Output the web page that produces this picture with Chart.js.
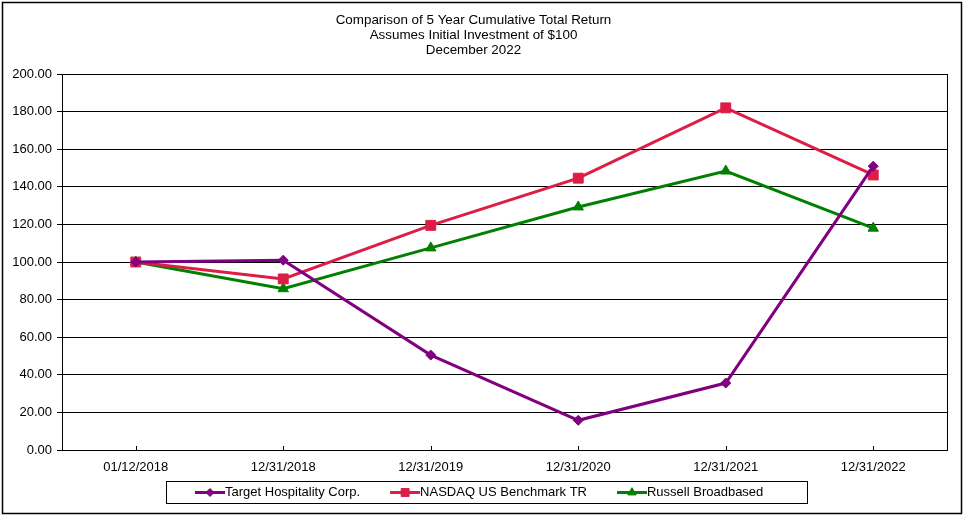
<!DOCTYPE html>
<html>
<head>
<meta charset="utf-8">
<script src="https://cdn.jsdelivr.net/npm/chart.js@4.4.1/dist/chart.umd.min.js"></script>
<style>
  html, body { margin: 0; padding: 0; background: #fff; }
  #wrap { width: 965px; height: 515px; }
</style>
</head>
<body>
<div id="wrap"><canvas id="returns_chart"></canvas></div>
<script>
// values
var dates = ["01/12/2018", "12/31/2018", "12/31/2019", "12/31/2020", "12/31/2021", "12/31/2022"];
var target_hospitality = [100.00, 101.00, 50.50, 15.80, 35.60, 151.00];
var nasdaq_benchmark = [100.00, 91.00, 119.50, 144.60, 182.00, 146.30];
var russell_broad = [100.00, 85.80, 107.50, 129.30, 148.40, 118.00];
var title_lines = [
  "Comparison of 5 Year Cumulative Total Return",
  "Assumes Initial Investment of $100",
  "December 2022"
];

var FONT = "'Liberation Sans', Arial, sans-serif";

// white page + outer frame + right edge of the plot box + inner x ticks
var framePlugin = {
  id: "frame",
  beforeDraw: function (chart) {
    var ctx = chart.ctx;
    ctx.save();
    ctx.fillStyle = "#fff";
    ctx.fillRect(0, 0, chart.width, chart.height);
    ctx.restore();
  },
  afterDraw: function (chart) {
    var ctx = chart.ctx, a = chart.chartArea;
    ctx.save();
    ctx.strokeStyle = "#000";
    ctx.lineWidth = 1.5;
    ctx.strokeRect(2.5, 2.5, chart.width - 6, chart.height - 4);
    ctx.lineWidth = 1;
    ctx.beginPath();
    ctx.moveTo(Math.round(a.right) + 0.5, a.top);
    ctx.lineTo(Math.round(a.right) + 0.5, a.bottom);
    var xs = chart.scales.x;
    for (var i = 0; i < xs.ticks.length; i++) {
      var px = Math.round(xs.getPixelForTick(i)) + 0.5;
      ctx.moveTo(px, a.bottom);
      ctx.lineTo(px, a.bottom - 4);
    }
    ctx.stroke();
    ctx.restore();
  }
};

// boxed legend with line + marker samples
var boxLegend = {
  id: "boxLegend",
  afterDraw: function (chart) {
    var ctx = chart.ctx;
    var sets = chart.data.datasets;
    var lineLen = 30, gapItem = 30;
    ctx.save();
    ctx.font = "13px " + FONT;
    var boxL = 166, boxR = 807, boxT = 481, boxB = 503;
    ctx.strokeStyle = "#000";
    ctx.lineWidth = 1;
    ctx.strokeRect(boxL + 0.5, boxT + 0.5, boxR - boxL, boxB - boxT);
    var x = 195, cy = (boxT + boxB) / 2 + 0.5;
    sets.forEach(function (d) {
      ctx.strokeStyle = d.borderColor;
      ctx.lineWidth = 3;
      ctx.beginPath();
      ctx.moveTo(x, cy);
      ctx.lineTo(x + lineLen, cy);
      ctx.stroke();
      ctx.fillStyle = d.borderColor;
      ctx.lineWidth = 1;
      Chart.helpers.drawPoint(ctx, {
        pointStyle: d.pointStyle,
        rotation: 0,
        borderWidth: 1,
        radius: d.pointRadius * 0.8
      }, x + lineLen / 2, cy);
      ctx.fillStyle = "#000";
      ctx.textBaseline = "middle";
      ctx.textAlign = "left";
      ctx.fillText(d.label, x + lineLen, cy);
      x += lineLen + ctx.measureText(d.label).width + gapItem;
    });
    ctx.restore();
  }
};

new Chart(document.getElementById("returns_chart"), {
  type: "line",
  data: {
    labels: dates,
    datasets: [
      {
        label: "Target Hospitality Corp.",
        data: target_hospitality,
        borderColor: "#800080",
        backgroundColor: "#800080",
        borderWidth: 3,
        pointStyle: "rectRot",
        pointRadius: 5,
        pointBorderWidth: 1
      },
      {
        label: "NASDAQ US Benchmark TR",
        data: nasdaq_benchmark,
        borderColor: "#DC1E46",
        backgroundColor: "#DC1E46",
        borderWidth: 3,
        pointStyle: "rect",
        pointRadius: 7,
        pointBorderWidth: 1
      },
      {
        label: "Russell Broadbased",
        data: russell_broad,
        borderColor: "#008000",
        backgroundColor: "#008000",
        borderWidth: 3,
        pointStyle: "triangle",
        pointRadius: 6,
        pointBorderWidth: 1
      }
    ]
  },
  options: {
    responsive: true,
    maintainAspectRatio: false,
    animation: false,
    layout: { padding: { left: 0, right: 18, top: 0, bottom: 40 } },
    plugins: {
      legend: { display: false },
      tooltip: { enabled: false },
      title: {
        display: true,
        text: title_lines,
        color: "#000",
        font: { family: FONT, size: 13.4, weight: "normal", lineHeight: 1.12 },
        padding: { top: 13, bottom: 16 }
      }
    },
    scales: {
      x: {
        offset: true,
        grid: { display: false, drawTicks: false },
        border: { display: true, color: "#000", width: 1 },
        ticks: { color: "#000", padding: 10, maxRotation: 0, font: { family: FONT, size: 13 } },
        afterFit: function (s) { s.height = 25; }
      },
      y: {
        min: 0,
        max: 200,
        grid: { color: "#000", lineWidth: 1, tickLength: 5, drawTicks: true },
        border: { display: true, color: "#000", width: 1 },
        ticks: {
          stepSize: 20,
          color: "#000",
          padding: 5,
          font: { family: FONT, size: 13 },
          callback: function (v) { return v.toFixed(2); }
        },
        afterFit: function (s) { s.width = 62; }
      }
    }
  },
  plugins: [framePlugin, boxLegend]
});
</script>
</body>
</html>
